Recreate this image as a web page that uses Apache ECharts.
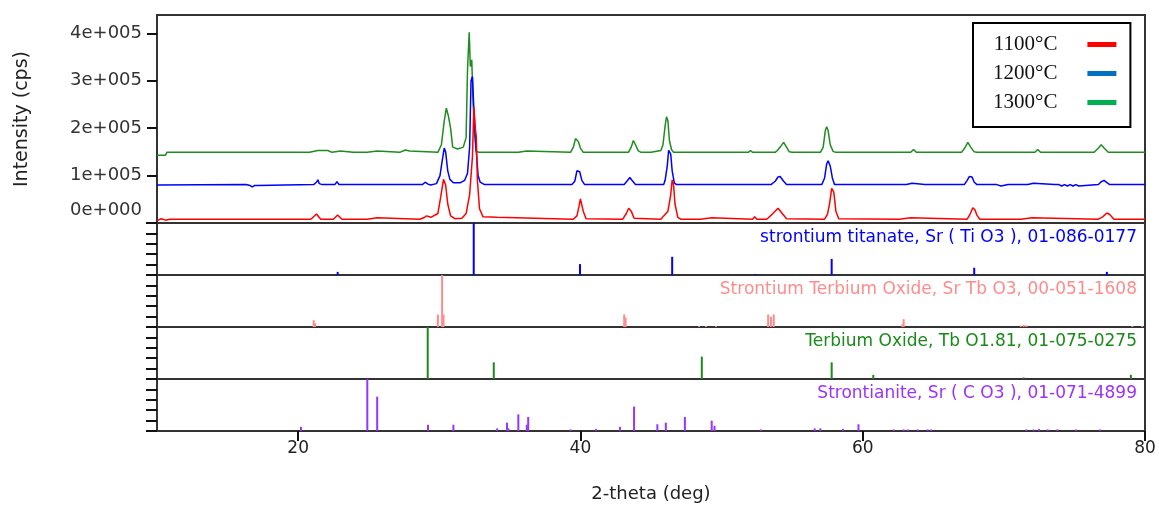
<!DOCTYPE html>
<html>
<head>
<meta charset="utf-8">
<script src="https://cdn.jsdelivr.net/npm/echarts@6/dist/echarts.min.js"></script>
<style>
  html, body { margin: 0; padding: 0; background: #fff; }
  #chart { width: 1159px; height: 505px; }
</style>
</head>
<body>
<div id="chart"></div>
<script>
// measured XRD traces, [2-theta, cps] (offset already included)
const trace1100 = [
  [10.0, 5000], [10.3, 9000], [10.6, 6000], [10.9, 8000],
  [20.9, 8000], [21.3, 19000], [21.6, 8000],
  [22.5, 8000], [22.8, 17000], [23.1, 8000],
  [24.9, 8000], [25.0, 11000], [25.6, 11000], [25.7, 8000],
  [28.6, 8000], [28.9, 11000], [29.1, 15000], [29.4, 12000], [29.9, 20000], [30.1, 55000],
  [30.3, 92000], [30.45, 80000], [30.6, 40000], [30.8, 15000], [31.1, 9000],
  [31.6, 10000], [31.9, 20000], [32.15, 60000], [32.35, 140000], [32.45, 245000], [32.55, 200000],
  [32.62, 182000], [32.7, 90000], [32.85, 30000], [33.1, 13000], [34.1, 12000], [34.2, 8000],
  [39.5, 8000], [39.75, 15000], [39.9, 35000], [40.0, 51000], [40.1, 48000], [40.2, 25000], [40.4, 9000],
  [43.0, 8000], [43.25, 20000], [43.42, 31000], [43.6, 25000], [43.8, 10000],
  [45.7, 8000], [45.9, 15000], [46.2, 25000], [46.4, 60000], [46.5, 91000], [46.6, 80000],
  [46.7, 40000], [46.9, 12000], [47.1, 8000],
  [48.5, 8000], [48.6, 11000], [49.3, 11000], [49.4, 8000],
  [52.2, 8000], [52.35, 13000], [52.5, 8000],
  [53.2, 8000], [53.5, 16000], [53.7, 22000], [54.0, 31000], [54.3, 20000], [54.6, 9000],
  [57.3, 8000], [57.5, 18000], [57.65, 40000], [57.8, 73000], [57.95, 65000], [58.1, 25000], [58.3, 9000],
  [62.6, 8000], [62.7, 11000], [63.4, 11000], [63.5, 8000],
  [67.4, 8000], [67.6, 18000], [67.8, 32000], [67.95, 28000], [68.1, 16000], [68.3, 8000],
  [71.2, 8000], [71.3, 11000], [72.0, 11000], [72.1, 8000],
  [76.7, 8000], [77.0, 13000], [77.3, 21000], [77.5, 18000], [77.8, 8000],
  [80.0, 8000]
];
const trace1200 = [
  [10.0, 80000], [16.3, 81000], [16.4, 79000], [16.6, 79000], [16.75, 76000], [16.9, 79000],
  [17.1, 79000], [17.2, 81000],
  [21.1, 81000], [21.3, 86000], [21.4, 91000], [21.5, 83000], [21.7, 81000],
  [22.6, 81000], [22.75, 87000], [22.9, 81000],
  [28.8, 81000], [29.0, 86000], [29.2, 82000], [29.4, 80000],
  [29.8, 83000], [30.05, 100000], [30.2, 130000], [30.35, 158000], [30.45, 150000], [30.6, 110000],
  [30.75, 92000], [31.0, 85000], [31.5, 85000], [31.8, 90000], [32.0, 105000], [32.15, 160000],
  [32.25, 300000], [32.35, 309000], [32.45, 240000], [32.6, 160000], [32.75, 100000], [32.9, 86000], [33.2, 81000],
  [39.4, 81000], [39.6, 88000], [39.75, 110000], [39.85, 114000], [39.95, 108000], [40.1, 90000], [40.3, 81000],
  [43.1, 81000], [43.35, 90000], [43.5, 96000], [43.65, 90000], [43.9, 81000],
  [45.9, 81000], [46.0, 90000], [46.15, 120000], [46.25, 153000], [46.4, 145000], [46.5, 110000],
  [46.65, 85000], [46.8, 81000],
  [53.5, 81000], [53.8, 88000], [54.0, 97000], [54.15, 98000], [54.4, 88000], [54.6, 81000],
  [57.1, 81000], [57.3, 95000], [57.45, 125000], [57.55, 131000], [57.7, 120000], [57.85, 95000], [58.0, 81000],
  [61.9, 81000], [62.0, 77000], [62.1, 81000],
  [63.1, 81000], [63.2, 84000], [63.5, 84000], [63.6, 81000],
  [64.4, 81000], [64.5, 78000], [64.6, 81000],
  [65.6, 81000], [65.7, 77000], [65.8, 81000],
  [67.2, 81000], [67.4, 90000], [67.55, 98000], [67.75, 97000], [67.9, 86000], [68.1, 81000],
  [69.5, 81000], [69.6, 78000], [69.8, 78000], [69.9, 81000], [70.3, 81000], [70.4, 78000], [70.5, 81000],
  [71.7, 81000], [71.8, 84000], [72.1, 84000], [72.2, 81000],
  [73.6, 81000], [73.7, 78000], [73.9, 81000], [74.1, 78000], [74.3, 81000], [74.5, 78000],
  [74.7, 81000], [74.9, 78000], [75.1, 81000], [75.3, 78000], [75.4, 81000],
  [76.7, 81000], [76.9, 87000], [77.1, 90000], [77.3, 85000], [77.5, 81000],
  [78.4, 81000], [78.5, 77000], [78.6, 81000], [80.0, 81000]
];
const trace1300 = [
  [10.0, 143000], [10.6, 143000], [10.7, 149000],
  [20.8, 149000], [20.9, 153000], [21.4, 153000], [21.5, 157000], [21.6, 153000], [22.1, 153000], [22.2, 149000],
  [22.4, 149000], [22.5, 152000], [23.0, 152000], [23.1, 149000],
  [23.9, 149000], [24.0, 153000], [24.1, 149000],
  [24.9, 149000], [25.0, 152000], [25.6, 152000], [25.7, 149000],
  [27.2, 149000], [27.3, 152000], [27.6, 154000], [27.9, 152000], [28.0, 149000],
  [29.9, 149000], [30.15, 165000], [30.35, 215000], [30.5, 242000], [30.65, 225000], [30.8, 200000],
  [30.95, 160000], [31.3, 156000], [31.7, 160000], [31.9, 180000], [32.0, 323000], [32.12, 402000],
  [32.2, 330000], [32.3, 344000], [32.4, 250000], [32.5, 190000], [32.6, 152000], [32.8, 149000],
  [35.6, 149000], [35.7, 152000], [36.2, 152000], [36.3, 149000],
  [39.3, 149000], [39.5, 160000], [39.65, 178000], [39.75, 182000], [39.85, 172000], [40.0, 158000], [40.2, 149000],
  [43.4, 149000], [43.6, 160000], [43.75, 174000], [43.9, 165000], [44.1, 152000], [44.3, 149000],
  [45.0, 149000], [45.1, 153000], [45.7, 153000], [45.85, 165000], [46.0, 205000], [46.1, 224000],
  [46.2, 215000], [46.3, 175000], [46.45, 155000], [46.6, 149000],
  [47.1, 149000], [47.2, 152000], [47.3, 149000],
  [49.1, 149000], [49.2, 153000], [49.3, 149000],
  [51.9, 149000], [52.05, 153000], [52.2, 149000],
  [53.8, 149000], [53.95, 153000], [54.2, 162000], [54.4, 170000], [54.6, 160000], [54.8, 150000], [55.0, 149000],
  [57.0, 149000], [57.2, 160000], [57.35, 195000], [57.45, 203000], [57.55, 195000], [57.7, 165000],
  [57.9, 151000], [58.1, 149000],
  [63.4, 149000], [63.6, 155000], [63.8, 149000],
  [67.0, 149000], [67.2, 157000], [67.45, 170000], [67.65, 160000], [67.9, 150000], [68.1, 149000],
  [72.2, 149000], [72.4, 155000], [72.6, 149000],
  [76.4, 149000], [76.7, 158000], [76.9, 165000], [77.1, 158000], [77.4, 149000],
  [80.0, 149000]
];

// reference patterns, [2-theta, relative intensity]
const srTiO3Sticks = [[22.8, 6], [32.44, 100], [39.97, 21], [46.5, 35], [52.4, 2], [57.8, 31], [67.9, 14], [77.3, 6]];
const srTbO3Sticks = [
  [21.1, 13], [21.2, 7], [29.9, 24], [30.2, 100], [30.3, 24], [43.1, 24], [43.2, 18],
  [48.4, 2], [48.9, 2], [49.6, 2], [53.3, 24], [53.5, 20], [53.7, 24], [62.8, 5], [62.9, 15],
  [71.2, 3], [71.4, 4], [71.6, 3], [79.1, 2], [79.8, 2]
];
const tbO181Sticks = [[29.18, 100], [33.86, 32], [48.6, 43], [57.8, 32], [60.75, 8], [71.4, 3], [79.0, 8]];
const srCO3Sticks = [
  [20.2, 8], [24.9, 100], [25.6, 66], [29.2, 12], [31.0, 12], [34.1, 5], [34.8, 16], [34.9, 5],
  [35.6, 32], [36.2, 12], [36.3, 27], [39.3, 3], [41.1, 4], [42.8, 8], [43.8, 47], [45.45, 13],
  [46.05, 16], [47.4, 27], [49.3, 20], [49.5, 10], [52.8, 3], [56.6, 5], [57.0, 5], [58.6, 4],
  [59.7, 13], [62.2, 3], [62.9, 3], [63.2, 3], [63.9, 3], [64.6, 3], [64.85, 3], [71.6, 3],
  [72.1, 3], [72.5, 4], [73.1, 3], [73.8, 3], [75.1, 3], [76.8, 3]
];

const seriesNames = ['1100°C', '1200°C', '1300°C'];
const legendColors = ['#ff0000', '#0070c0', '#00b050'];
const patternLabels = [
  'strontium titanate, Sr ( Ti O3 ), 01-086-0177',
  'Strontium Terbium Oxide, Sr Tb O3, 00-051-1608',
  'Terbium Oxide, Tb O1.81, 01-075-0275',
  'Strontianite, Sr ( C O3 ), 01-071-4899'
];
const patternColors = ['#0000ff', '#ff8c8c', '#1a8a1a', '#9933ff'];
const xTickValues = [20, 40, 60, 80];
const yTickValues = [0, 100000, 200000, 300000, 400000];
const stickTickValues = [0, 20, 40, 60, 80, 100];

const chart = echarts.init(document.getElementById('chart'))

const gridTops = [15, 223, 275, 327, 379]
const gridHeights = [208, 52, 52, 52, 52]
const axisColor = '#333'
const font = 'DejaVu Sans'

const grids = gridTops.map((top, i) => ({
  left: 157, right: 14, top, height: gridHeights[i],
  show: true, borderColor: axisColor, borderWidth: 2
}))

const xAxes = gridTops.map((_, i) => {
  const last = i === gridTops.length - 1
  return {
    type: 'value', gridIndex: i, min: 10, max: 80,
    axisLine: { show: true, lineStyle: { color: axisColor, width: 2 } },
    axisTick: { show: last, customValues: xTickValues, length: 10, lineStyle: { color: '#111', width: 2 } },
    axisLabel: { show: last, customValues: xTickValues, margin: 9, color: '#222', fontFamily: font, fontSize: 17 },
    splitLine: { show: false },
    name: last ? '2-theta (deg)' : '',
    nameLocation: 'middle', nameGap: 54,
    nameTextStyle: { color: '#222', fontFamily: font, fontSize: 18 }
  }
})

const yAxes = gridTops.map((_, i) => {
  if (i === 0) {
    return {
      type: 'value', gridIndex: 0, min: 0, max: 438600,
      axisLine: { show: true, lineStyle: { color: axisColor, width: 2 } },
      axisTick: { show: true, customValues: yTickValues, length: 10, lineStyle: { color: '#111', width: 2 } },
      axisLabel: {
        customValues: yTickValues, margin: 15, color: '#333', fontFamily: font, fontSize: 18,
        formatter: v => v === 0 ? '{z|0e+000}' : (v / 100000) + 'e+005',
        rich: { z: { color: '#333', fontFamily: font, fontSize: 18, padding: [0, 0, 26, 0] } }
      },
      splitLine: { show: false },
      name: 'Intensity (cps)', nameLocation: 'middle', nameGap: 125,
      nameTextStyle: { color: '#222', fontFamily: font, fontSize: 19 }
    }
  }
  return {
    type: 'value', gridIndex: i, min: 0, max: 100,
    axisLine: { show: true, lineStyle: { color: axisColor, width: 2 } },
    axisTick: { show: true, customValues: stickTickValues, length: 11, lineStyle: { color: '#111', width: 2 } },
    axisLabel: { show: false },
    splitLine: { show: false }
  }
})

const traces = [trace1100, trace1200, trace1300]
const traceColors = ['#ff0000', '#0000ff', '#1e8c1e']
// draw 1300 first so 1200 and 1100 sit on top, like the original
const lineSeries = [2, 1, 0].map(k => ({
  name: seriesNames[k], type: 'line', xAxisIndex: 0, yAxisIndex: 0,
  data: traces[k], showSymbol: false, symbol: 'none', silent: true,
  lineStyle: { color: traceColors[k], width: 1.5 },
  itemStyle: { color: traceColors[k] }
}))

const sticks = [srTiO3Sticks, srTbO3Sticks, tbO181Sticks, srCO3Sticks]
const stickSeries = sticks.map((d, i) => ({
  type: 'bar', xAxisIndex: i + 1, yAxisIndex: i + 1,
  data: d, barWidth: 2, silent: true,
  itemStyle: { color: patternColors[i] }
}))

const labels = patternLabels.map((t, i) => ({
  type: 'text', right: 22, top: gridTops[i + 1] + 6,
  style: { text: t, fill: patternColors[i], font: '17px "DejaVu Sans"' }
}))

chart.setOption({
  animation: false,
  backgroundColor: '#fff',
  grid: grids,
  xAxis: xAxes,
  yAxis: yAxes,
  legend: {
    left: 973, top: 23, orient: 'vertical', align: 'right', selectedMode: false,
    padding: [7, 14, 10, 20], itemGap: 0, itemWidth: 29, itemHeight: 5, icon: 'rect',
    borderColor: '#000', borderWidth: 2,
    textStyle: { fontFamily: 'Liberation Serif', fontSize: 21, color: '#111', lineHeight: 29, padding: [0, 25, 0, 0] },
    data: seriesNames.map((n, i) => ({ name: n, itemStyle: { color: legendColors[i] }, lineStyle: { width: 0 } }))
  },
  graphic: labels,
  series: [...lineSeries, ...stickSeries]
})
</script>
</body>
</html>
